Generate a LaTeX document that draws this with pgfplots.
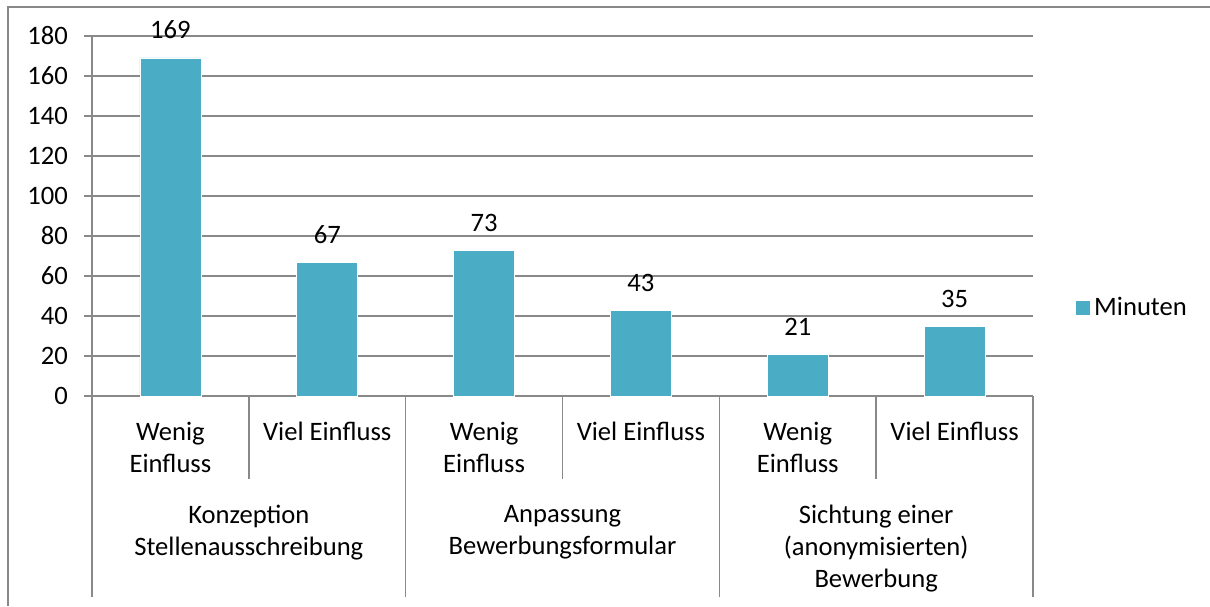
\documentclass[border=0pt]{standalone}
\usepackage{pgfplots}
\pgfplotsset{compat=1.18}
\usepackage{fontspec}
\setmainfont{Carlito}
\definecolor{barc}{HTML}{4BACC6}
\definecolor{gridc}{HTML}{898989}
\newcommand{\cf}{\fontsize{13.3}{16}\selectfont}
\begin{document}
\begin{tikzpicture}[font=\cf]
\useasboundingbox (0,0) rectangle (605pt,303pt);
\draw[gridc, line width=0.75pt] (4pt,0) -- (4pt,299.5pt) -- (606pt,299.5pt);
\begin{axis}[
  at={(46pt,105pt)}, anchor=south west,
  scale only axis, width=470.5pt, height=180pt,
  xmin=-0.5, xmax=5.5, ymin=0, ymax=180,
  ytick={0,20,...,180},
  xtick=\empty,
  axis x line*=bottom, axis y line*=left,
  axis line style={gridc, line width=0.75pt, -},
  ymajorgrids, grid style={gridc, line width=0.75pt},
  major tick length=4pt, tick align=outside,
  tick style={gridc, line width=0.75pt},
  /pgf/number format/assume math mode=true,
  yticklabel style={font=\cf, xshift=-4.5pt},
  clip=false,
  ybar, bar width=30.5pt, bar shift=0pt,
  nodes near coords,
  every node near coord/.append style={font=\cf, inner sep=0pt, yshift=9.5pt, anchor=base, black},
  legend style={at={(axis description cs:1.0457,0.2444)}, anchor=west, draw=none, inner sep=0pt, font=\cf, fill=none},
  legend image code/.code={\fill[barc] (0pt,-3.25pt) rectangle (6.5pt,3.25pt);},
]
\addplot[fill=barc, draw=white, line width=0.4pt] coordinates {(0,169) (1,67) (2,73) (3,43) (4,21) (5,35)};
\addlegendentry{Minuten}
% category separators
\pgfplotsinvokeforeach{0.5,2.5,4.5}{
  \draw[gridc, line width=0.75pt] (axis cs:#1,0) -- ++(0pt,-41.5pt);
}
\pgfplotsinvokeforeach{-0.5,1.5,3.5,5.5}{
  \draw[gridc, line width=0.75pt] (axis cs:#1,0) -- ++(0pt,-100.5pt);
}
% first level labels
\node[anchor=north, inner sep=0pt, align=center] at ([yshift=-13pt]axis cs:0,0) {Wenig\\Einfluss};
\node[anchor=north, inner sep=0pt, align=center] at ([yshift=-13pt]axis cs:1,0) {Viel Einfluss};
\node[anchor=north, inner sep=0pt, align=center] at ([yshift=-13pt]axis cs:2,0) {Wenig\\Einfluss};
\node[anchor=north, inner sep=0pt, align=center] at ([yshift=-13pt]axis cs:3,0) {Viel Einfluss};
\node[anchor=north, inner sep=0pt, align=center] at ([yshift=-13pt]axis cs:4,0) {Wenig\\Einfluss};
\node[anchor=north, inner sep=0pt, align=center] at ([yshift=-13pt]axis cs:5,0) {Viel Einfluss};
% second level labels
\node[anchor=north, inner sep=0pt, align=center] at ([yshift=-54.5pt]axis cs:0.5,0) {Konzeption\\Stellenausschreibung};
\node[anchor=north, inner sep=0pt, align=center] at ([yshift=-54.5pt]axis cs:2.5,0) {Anpassung\\Bewerbungsformular};
\node[anchor=north, inner sep=0pt, align=center] at ([yshift=-54.5pt]axis cs:4.5,0) {Sichtung einer\\(anonymisierten)\\Bewerbung};
\end{axis}
\end{tikzpicture}
\end{document}
